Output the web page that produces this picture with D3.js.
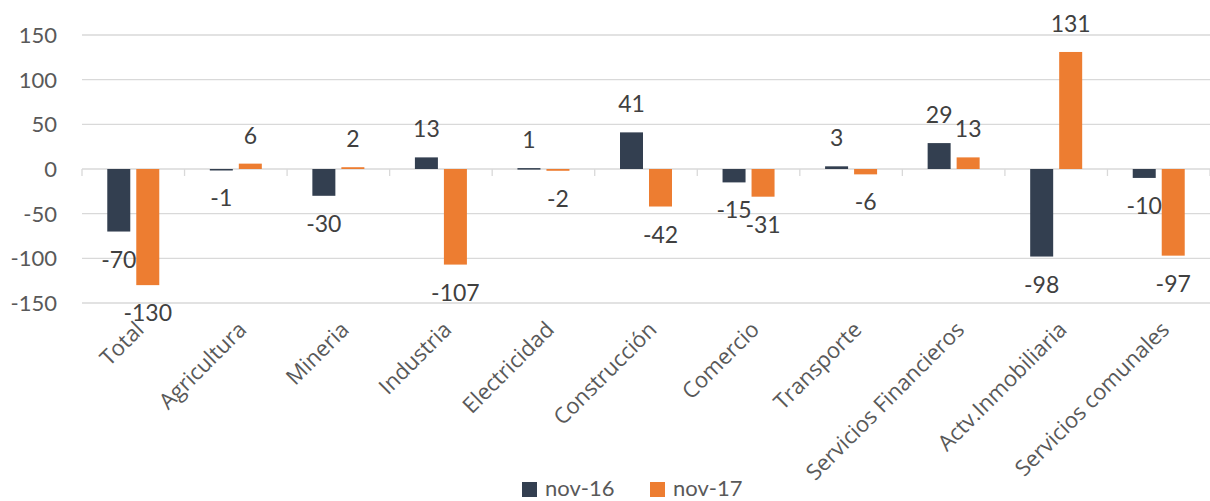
<!DOCTYPE html>
<html>
<head>
<meta charset="utf-8">
<script src="https://cdn.jsdelivr.net/npm/d3@7"></script>
<style>
  body { margin: 0; background: #fff; }
  svg { display: block; }
</style>
</head>
<body>
<div id="chart"></div>
<script>
// ======= DATA =======
const categories = [
  "Total", "Agricultura", "Mineria", "Industria", "Electricidad", "Construcción",
  "Comercio", "Transporte", "Servicios Financieros", "Actv.Inmobiliaria", "Servicios comunales"
];
const seriesNames = ["nov-16", "nov-17"];
const nov16 = [-70, -1, -30, 13, 1, 41, -15, 3, 29, -98, -10];
const nov17 = [-130, 6, 2, -107, -2, -42, -31, -6, 13, 131, -97];
const yTicks = [-150, -100, -50, 0, 50, 100, 150];

const colors = { "nov-16": "#333f50", "nov-17": "#ed7d31" };

// ======= SETUP =======
const width = 1210, height = 501;
const numFont = "Lato, 'Open Sans', sans-serif";
const catFont = "'Open Sans', sans-serif";

const svg = d3.select("#chart").append("svg")
  .attr("width", width)
  .attr("height", height);

const x0 = d3.scaleBand().domain(categories).range([82, 1210]).padding(0);
const groupW = 52;
const x1 = d3.scaleBand().domain(seriesNames)
  .range([(x0.bandwidth() - groupW) / 2, (x0.bandwidth() + groupW) / 2])
  .paddingInner(0.207);
const y = d3.scaleLinear().domain([-150, 150]).range([303, 35]);

// gridlines
svg.append("g").selectAll("line")
  .data(yTicks)
  .join("line")
  .attr("x1", 82).attr("x2", 1210)
  .attr("y1", d => y(d)).attr("y2", d => y(d))
  .attr("stroke", "#d9d9d9")
  .attr("stroke-width", 1.3);

// y tick labels
svg.append("g").selectAll("text")
  .data(yTicks)
  .join("text")
  .attr("x", 57)
  .attr("y", d => y(d))
  .attr("dy", "0.36em")
  .attr("text-anchor", "end")
  .attr("font-family", numFont)
  .attr("font-size", 22)
  .attr("fill", "#595959")
  .text(d => d);

// category tick marks on zero line
svg.append("g").selectAll("line")
  .data(categories.concat(["__end"]))
  .join("line")
  .attr("x1", (d, i) => 82 + i * x0.step())
  .attr("x2", (d, i) => 82 + i * x0.step())
  .attr("y1", y(0)).attr("y2", y(0) + 7)
  .attr("stroke", "#d9d9d9")
  .attr("stroke-width", 1.3);

// ======= BARS =======
const rows = categories.map((c, i) => ({
  cat: c,
  vals: [
    { series: "nov-16", value: nov16[i] },
    { series: "nov-17", value: nov17[i] }
  ]
}));

const groups = svg.append("g").selectAll("g")
  .data(rows)
  .join("g")
  .attr("transform", d => `translate(${x0(d.cat)},0)`);

groups.selectAll("rect")
  .data(d => d.vals)
  .join("rect")
  .attr("x", d => x1(d.series))
  .attr("width", x1.bandwidth())
  .attr("y", d => Math.min(y(d.value), y(0)))
  .attr("height", d => Math.max(Math.abs(y(d.value) - y(0)), 1.5))
  .attr("fill", d => colors[d.series]);

// data labels
groups.selectAll("text")
  .data(d => d.vals)
  .join("text")
  .attr("x", d => x1(d.series) + x1.bandwidth() / 2)
  .attr("y", d => d.value >= 0 ? y(d.value) - 20 : y(d.value) + 36)
  .attr("text-anchor", "middle")
  .attr("font-family", numFont)
  .attr("font-size", 23)
  .attr("fill", "#404040")
  .text(d => d.value);

// ======= CATEGORY LABELS =======
svg.append("g").selectAll("text")
  .data(categories)
  .join("text")
  .attr("transform", d => `translate(${x0(d) + x0.bandwidth() / 2 + 12},${331}) rotate(-45)`)
  .attr("text-anchor", "end")
  .attr("font-family", catFont)
  .attr("font-size", 22)
  .attr("fill", "#595959")
  .text(d => d);

// ======= LEGEND =======
const legend = svg.append("g").selectAll("g")
  .data(seriesNames)
  .join("g")
  .attr("transform", (d, i) => `translate(${522 + i * 128},482)`);

legend.append("rect")
  .attr("width", 15).attr("height", 15)
  .attr("fill", d => colors[d]);

legend.append("text")
  .attr("x", 23).attr("y", 14)
  .attr("font-family", numFont)
  .attr("font-size", 22)
  .attr("fill", "#595959")
  .text(d => d);
</script>
</body>
</html>
